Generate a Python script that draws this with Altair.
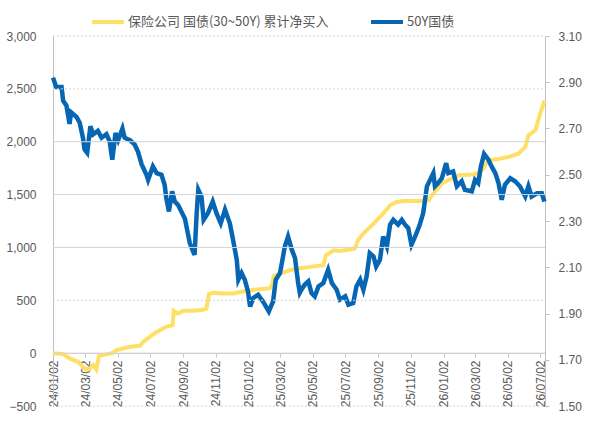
import altair as alt
import pandas as pd

START = pd.Timestamp("2024-01-02", tz="UTC")
END_DAY = 921

yellow_name = "保险公司 国债(30~50Y) 累计净买入"
blue_name = "50Y国债"

# cumulative net purchase (left axis), days since 2024-01-02
buy_days = [0, 19, 31, 47, 56, 63, 69, 75, 81, 86,
            94, 112, 119, 131, 144, 162, 169, 181, 194, 212,
            224, 226, 234, 244, 262, 281, 287, 292, 300, 319,
            337, 350, 369, 406, 411, 413, 425, 443, 459, 481,
            506, 511, 525, 537, 556, 565, 571, 581, 600, 618,
            631, 643, 656, 686, 703, 712, 728, 740, 759, 790,
            803, 815, 834, 853, 871, 884, 890, 903, 912, 918,
            920]
buy_values = [0, -9, -50, -82, -129, -161, -145, -113, -154, -28,
              -19, 3, 28, 44, 60, 69, 107, 154, 201, 249,
              265, 400, 375, 400, 400, 410, 422, 558, 570, 564,
              565, 579, 595, 615, 658, 728, 753, 784, 800, 816,
              832, 926, 973, 967, 980, 989, 1068, 1131, 1225, 1320,
              1399, 1430, 1440, 1440, 1446, 1509, 1604, 1635, 1682, 1692,
              1729, 1824, 1837, 1856, 1887, 1950, 2060, 2107, 2265, 2359,
              2390]

# 50Y government bond yield (right axis)
yield_days = [0, 6, 16, 19, 25, 31, 34, 44, 50, 56,
              59, 64, 70, 75, 84, 91, 100, 106, 111, 117,
              122, 130, 134, 144, 153, 159, 166, 175, 178, 187,
              194, 203, 209, 212, 217, 223, 228, 234, 247, 256,
              262, 265, 269, 272, 278, 282, 290, 299, 306, 314,
              322, 331, 337, 344, 347, 353, 359, 365, 369, 375,
              384, 393, 404, 412, 417, 425, 434, 440, 447, 453,
              459, 462, 465, 471, 478, 484, 490, 497, 506, 515,
              522, 531, 537, 547, 553, 562, 568, 575, 581, 587,
              593, 600, 605, 612, 618, 625, 631, 637, 646, 653,
              659, 665, 671, 678, 686, 693, 700, 706, 712, 715,
              721, 728, 736, 740, 749, 756, 765, 771, 784, 790,
              796, 801, 807, 815, 821, 828, 834, 840, 846, 856,
              865, 874, 884, 890, 896, 906, 915, 920]
yield_values = [2.92, 2.88, 2.88, 2.82, 2.80, 2.72, 2.77, 2.75, 2.725, 2.66,
                2.61, 2.595, 2.71, 2.675, 2.69, 2.66, 2.675, 2.645, 2.565, 2.68,
                2.65, 2.70, 2.66, 2.65, 2.63, 2.60, 2.545, 2.50, 2.478, 2.536,
                2.507, 2.50, 2.457, 2.40, 2.341, 2.428, 2.384, 2.37, 2.31, 2.205,
                2.17, 2.154, 2.336, 2.435, 2.406, 2.305, 2.334, 2.384, 2.334, 2.29,
                2.349, 2.29, 2.219, 2.132, 2.046, 2.075, 2.046, 1.995, 1.93, 1.967,
                1.981, 1.952, 1.909, 1.952, 2.046, 2.075, 2.19, 2.233, 2.176, 2.14,
                2.03, 1.99, 2.003, 2.024, 2.039, 1.988, 1.974, 2.017, 2.032, 2.089,
                2.032, 2.003, 1.96, 1.974, 1.938, 1.945, 2.017, 2.046, 2.003, 2.06,
                2.161, 2.147, 2.103, 2.132, 2.233, 2.19, 2.284, 2.305, 2.284, 2.305,
                2.284, 2.269, 2.197, 2.233, 2.28, 2.334, 2.45, 2.478, 2.507, 2.45,
                2.464, 2.485, 2.55, 2.507, 2.514, 2.45, 2.472, 2.435, 2.428, 2.478,
                2.464, 2.536, 2.59, 2.565, 2.536, 2.507, 2.464, 2.392, 2.457, 2.485,
                2.472, 2.45, 2.406, 2.45, 2.406, 2.42, 2.42, 2.384]

tick_dates = ["2024-01-02", "2024-03-02", "2024-05-02", "2024-07-02",
              "2024-09-02", "2024-11-02", "2025-01-02", "2025-03-02",
              "2025-05-02", "2025-07-02", "2025-09-02", "2025-11-02",
              "2026-01-02", "2026-03-02", "2026-05-02", "2026-07-02"]

left_ticks = [-500, 0, 500, 1000, 1500, 2000, 2500, 3000]
grid_styles = ["dot", "solid", "dot", "solid", "solid", "solid", "dot", "dot"]
right_ticks = [1.5, 1.7, 1.9, 2.1, 2.3, 2.5, 2.7, 2.9, 3.1]


def ms(ts):
    return int(ts.value // 10**6)


def day_ms(d):
    return ms(START + pd.Timedelta(days=d))


df_buy = pd.DataFrame({"t": [day_ms(d) for d in buy_days],
                       "value": buy_values, "series": yellow_name})
df_yield = pd.DataFrame({"t": [day_ms(d) for d in yield_days],
                         "value": yield_values, "series": blue_name})
df_grid = pd.DataFrame({"value": left_ticks, "style": grid_styles,
                        "t0": day_ms(0), "t1": day_ms(END_DAY)})

tick_ms = [ms(pd.Timestamp(s, tz="UTC")) for s in tick_dates]

FONT = "Liberation Sans"
LABEL_COLOR = "#595959"

x_scale = alt.Scale(type="utc", domain=[day_ms(0), day_ms(END_DAY)], nice=False)
x_axis = alt.Axis(
    title=None, values=tick_ms, format="%y/%m/%d", labelAngle=270,
    labelFont=FONT, labelFontSize=12, labelColor=LABEL_COLOR,
    offset=-53, domainColor="#C8C8C8", tickColor="#C8C8C8", tickSize=4,
    labelPadding=3, grid=False, labelOverlap=False, labelFlush=False,
)
x_enc = alt.X("t:T", scale=x_scale, axis=x_axis)

color_scale = alt.Scale(domain=[yellow_name, blue_name], range=["#FFE066", "#0766B3"])

legend = alt.Legend(
    title=None, orient="none", legendX=37, legendY=-32, direction="horizontal",
    symbolType="stroke", symbolSize=1024, symbolStrokeWidth=4,
    labelFont="Noto Sans CJK SC", labelFontSize=13, labelColor=LABEL_COLOR,
    labelLimit=400, labelOffset=2, columnPadding=34,
)

buy_line = alt.Chart(df_buy).mark_line(strokeWidth=4).encode(
    x=x_enc,
    y=alt.Y(
        "value:Q",
        scale=alt.Scale(domain=[-500, 3000], nice=False, zero=False),
        axis=alt.Axis(
            title=None, values=left_ticks, format=",.0f", orient="left",
            labelFont=FONT, labelFontSize=12, labelColor=LABEL_COLOR,
            tickSize=0, labelPadding=17, domainColor="#BFBFBF", grid=False,
        ),
    ),
    color=alt.Color("series:N", scale=color_scale, legend=legend),
)

yield_line = alt.Chart(df_yield).mark_line(strokeWidth=4.5).encode(
    x=x_enc,
    y=alt.Y(
        "value:Q",
        scale=alt.Scale(domain=[1.5, 3.1], nice=False, zero=False),
        axis=alt.Axis(
            title=None, values=right_ticks, format=".2f", orient="right",
            labelFont=FONT, labelFontSize=12, labelColor=LABEL_COLOR,
            tickSize=4, tickColor="#BFBFBF", labelPadding=9,
            domainColor="#BFBFBF", grid=False,
        ),
    ),
    color=alt.Color("series:N", scale=color_scale, legend=legend),
)

grid_rules = alt.Chart(df_grid).mark_rule(color="#D4D4D4", strokeWidth=1).encode(
    x=alt.X("t0:T", scale=x_scale, axis=x_axis),
    x2="t1:T",
    y=alt.Y("value:Q", scale=alt.Scale(domain=[-500, 3000], nice=False, zero=False), axis=None),
    strokeDash=alt.StrokeDash(
        "style:N",
        scale=alt.Scale(domain=["solid", "dot"], range=[[1, 0], [2, 2]]),
        legend=None,
    ),
)

chart = alt.layer(buy_line, yield_line, grid_rules).resolve_scale(
    y="independent", strokeDash="independent"
).properties(
    width=492, height=370,
    autosize=alt.AutoSizeParams(type="none"),
    padding={"left": 53, "top": 36, "right": 45, "bottom": 19},
    background="white",
).configure_view(strokeOpacity=0)

chart.save("out.html", embed_options={"renderer": "svg", "actions": False})
